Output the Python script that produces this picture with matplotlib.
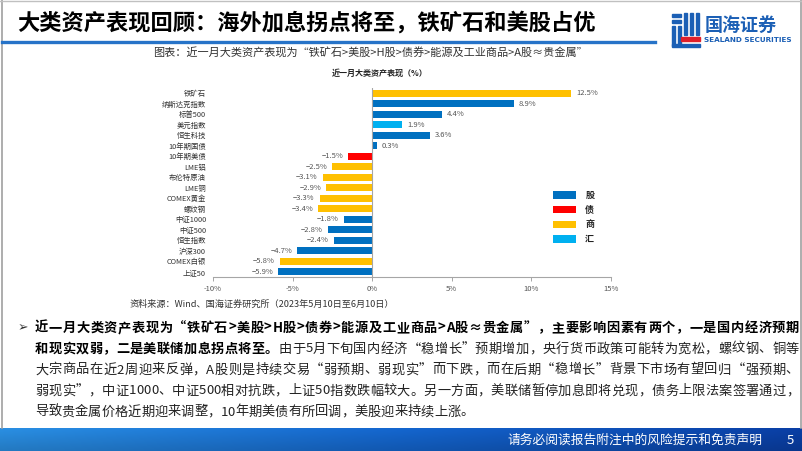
import matplotlib
matplotlib.use("Agg")
import matplotlib.pyplot as plt
import numpy as np
from matplotlib.patches import Rectangle, Patch
from matplotlib.colors import LinearSegmentedColormap

plt.rcParams['font.family'] = ['Noto Sans CJK SC', 'DejaVu Sans']
plt.rcParams['axes.unicode_minus'] = True

# ---------------- data ----------------
categories = ['铁矿石', '纳斯达克指数', '标普500', '美元指数', '恒生科技', '10年期国债',
              '10年期美债', 'LME铝', '布伦特原油', 'LME铜', 'COMEX黄金', '螺纹钢',
              '中证1000', '中证500', '恒生指数', '沪深300', 'COMEX白银', '上证50']
values = [12.5, 8.9, 4.4, 1.9, 3.6, 0.3,
          -1.5, -2.5, -3.1, -2.9, -3.3, -3.4,
          -1.8, -2.8, -2.4, -4.7, -5.8, -5.9]
asset_class = ['商', '股', '股', '汇', '股', '股',
               '债', '商', '商', '商', '商', '商',
               '股', '股', '股', '股', '商', '股']
legend_labels = ['股', '债', '商', '汇']
xticks = [-10, -5, 0, 5, 10, 15]
xtick_labels = ['-10%', '-5%', '0%', '5%', '10%', '15%']

colors = {'股': '#0070C0', '债': '#FF0000', '商': '#FFC000', '汇': '#00B0F0'}

W, H = 802, 451
fig = plt.figure(figsize=(W / 100, H / 100), dpi=100)
fig.patch.set_facecolor('white')
renderer = fig.canvas.get_renderer()


def px(x, y):
    return x / W, 1 - y / H


def ftext(x, y, s, **kw):
    return fig.text(*px(x, y), s, **kw)


# ---------------- page frame ----------------
fig.add_artist(plt.Line2D([1.5 / W, 1.5 / W], [1 - 428 / H, 1], color='#A0A0A0', lw=1.2))
fig.add_artist(plt.Line2D([800.5 / W, 800.5 / W], [1 - 428 / H, 1], color='#A0A0A0', lw=1.2))
fig.add_artist(plt.Line2D([0, 1], [1 - 0.5 / H, 1 - 0.5 / H], color='#C0C0C0', lw=1))

# title
ftext(17, 23, '大类资产表现回顾：海外加息拐点将至，铁矿石和美股占优', fontsize=16,
      fontweight='bold', color='#000000', va='center', ha='left')
fig.add_artist(plt.Line2D([2 / W, 655 / W], [1 - 42 / H, 1 - 42 / H], color='#2673C8', lw=2.4))

# logo
logo_blue = '#1B5FB5'
for (x0, y0, w, h, c) in [
    (672, 14, 9, 3, logo_blue), (672, 20, 9, 3, logo_blue),
    (684, 13, 3, 22, logo_blue), (690, 13, 3, 22, logo_blue), (696, 13, 3, 22, logo_blue),
    (672, 26, 3, 20, logo_blue), (678, 26, 3, 20, logo_blue),
    (681, 37, 19, 4, '#E0202A'), (672, 44, 28, 3, logo_blue)]:
    fig.add_artist(Rectangle(px(x0, y0 + h), w / W, h / H, color=c, transform=fig.transFigure))
ftext(705, 25, '国海证券', fontsize=13, fontweight='bold', color=logo_blue, va='center', ha='left')
ftext(704, 40, 'SEALAND SECURITIES', fontsize=5.2, fontweight='bold', color=logo_blue,
      va='center', ha='left', family=['DejaVu Sans'])

# subtitle
ftext(370, 53, '图表：近一月大类资产表现为“铁矿石>美股>H股>债券>能源及工业商品>A股≈贵金属”',
      fontsize=8, color='#333333', va='center', ha='center')

# chart title
ftext(380, 73, '近一月大类资产表现（%）', fontsize=5.8, fontweight='bold', color='#222222',
      va='center', ha='center')

# ---------------- chart ----------------
ax = fig.add_axes([213 / W, 1 - 277 / H, (611 - 213) / W, (277 - 88) / H])
ypos = np.arange(len(categories))
bar_colors = [colors[c] for c in asset_class]
ax.barh(ypos, values, height=0.7, color=bar_colors, zorder=2)
ax.set_ylim(len(categories) - 0.5, -0.5)
ax.set_xlim(-10, 15)
ax.set_xticks(xticks)
ax.set_xticklabels(xtick_labels)
ax.set_yticks(ypos)
ax.set_yticklabels(categories)
ax.tick_params(axis='y', length=0, pad=5, labelsize=5.3, labelcolor='#333333')
ax.tick_params(axis='x', length=3, width=0.7, color='#A6A6A6', pad=3, labelsize=5.5,
               labelcolor='#555555', direction='out')
for s in ['top', 'right', 'left']:
    ax.spines[s].set_visible(False)
ax.spines['bottom'].set_color('#A6A6A6')
ax.spines['bottom'].set_linewidth(0.8)
ax.axvline(0, color='#A6A6A6', lw=0.8, zorder=3)

for y, v in zip(ypos, values):
    lab = ('%.1f%%' % v).replace('-', '\u2212')
    if v >= 0:
        ax.annotate(lab, (v, y), xytext=(3.6, 0), textcoords='offset points',
                    ha='left', va='center', fontsize=5.5, color='#555555')
    else:
        ax.annotate(lab, (v, y), xytext=(-3.6, 0), textcoords='offset points',
                    ha='right', va='center', fontsize=5.5, color='#555555')

handles = [Patch(facecolor=colors[k], edgecolor='none') for k in legend_labels]
leg = fig.legend(handles, legend_labels, loc='upper left', bbox_to_anchor=px(546, 184),
                 frameon=False, fontsize=6.5, handlelength=2.55, handleheight=0.9,
                 labelspacing=0.62, handletextpad=1.0, borderpad=0.3)
for t in leg.get_texts():
    t.set_fontweight('bold')
    t.set_color('#222222')

# source
ftext(130, 304, '资料来源：Wind、国海证券研究所（2023年5月10日至6月10日）', fontsize=6.6,
      color='#333333', va='center', ha='left')

# ---------------- body text (justified) ----------------
ftext(18, 328, '➢', fontsize=9, color='#333333', va='center', ha='left', family=['DejaVu Sans'])
fs = 9.5
body_lines = [
    ([('近一月大类资产表现为“铁矿石>美股>H股>债券>能源及工业商品>A股≈贵金属”，主要影响因素有两个，一是国内经济预期', True)], True),
    ([('和现实双弱，二是美联储加息拐点将至。', True),
      ('由于5月下旬国内经济“稳增长”预期增加，央行货币政策可能转为宽松，螺纹钢、铜等', False)], True),
    ([('大宗商品在近2周迎来反弹，A股则是持续交易“弱预期、弱现实”而下跌，而在后期“稳增长”背景下市场有望回归“强预期、', False)], True),
    ([('弱现实”，中证1000、中证500相对抗跌，上证50指数跌幅较大。另一方面，美联储暂停加息即将兑现，债务上限法案签署通过，', False)], True),
    ([('导致贵金属价格近期迎来调整，10年期美债有所回调，美股迎来持续上涨。', False)], False),
]
line_y = [328, 349, 370, 391, 412]
x_left, x_right = 35, 799

width_cache = {}


def char_w(ch, bold):
    key = (ch, bold)
    if key not in width_cache:
        t = fig.text(0, 0, ch, fontsize=fs, fontweight='bold' if bold else 'normal')
        width_cache[key] = t.get_window_extent(renderer=renderer).width
        t.remove()
    return width_cache[key]


for (segs, justify), yy in zip(body_lines, line_y):
    chars = [(ch, b) for s, b in segs for ch in s]
    widths = [char_w(ch, b) for ch, b in chars]
    total = sum(widths)
    extra = (x_right - x_left - total) / (len(chars) - 1) if justify else 0.0
    x = x_left
    for (ch, b), w in zip(chars, widths):
        ftext(x, yy, ch, fontsize=fs, fontweight='bold' if b else 'normal',
              color='#000000' if b else '#222222', va='center', ha='left')
        x += w + extra

# ---------------- footer ----------------
fax = fig.add_axes([0, 0, 1, (451 - 428) / H])
fax.set_axis_off()
grad = np.linspace(0, 1, 256)
cmap = LinearSegmentedColormap.from_list('ft', ['#2A8FE3', '#1466CF', '#0A3FA6'])
vert = np.linspace(1, 0.85, 20)[:, None]
img = cmap(grad)[None, :, :3] * vert[:, :, None]
fax.imshow(img, aspect='auto', extent=[0, 1, 0, 1])
fax.set_xlim(0, 1)
fax.set_ylim(0, 1)
ftext(762, 440, '请务必阅读报告附注中的风险提示和免责声明', fontsize=9.2, color='white',
      va='center', ha='right')
ftext(790, 440, '5', fontsize=9.5, color='white', va='center', ha='center')

fig.savefig('out.png', dpi=100, facecolor='white')
